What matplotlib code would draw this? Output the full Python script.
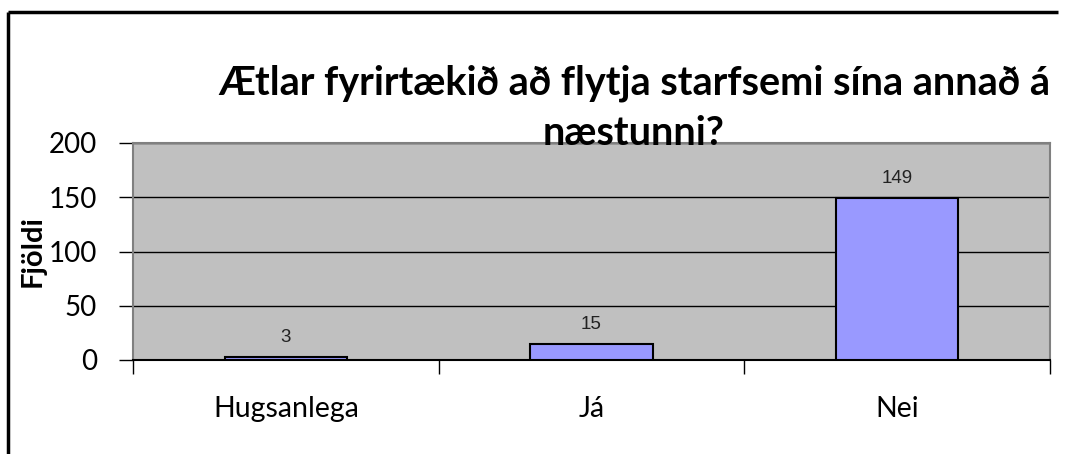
import matplotlib
matplotlib.use("Agg")
import matplotlib.pyplot as plt
from matplotlib.lines import Line2D

categories = ["Hugsanlega", "Já", "Nei"]
values = [3, 15, 149]
title = "Ætlar fyrirtækið að flytja starfsemi sína annað á\nnæstunni?"
ylabel = "Fjöldi"
yticks = [0, 50, 100, 150, 200]

fig = plt.figure(figsize=(10.69, 4.54), dpi=100)
fig.patch.set_linewidth(0)
fig.patch.set_edgecolor("none")
ax = fig.add_axes([133/1069, 1-360/454, (1050-133)/1069, (360-143)/454])
ax.set_facecolor("#C0C0C0")

x = list(range(len(categories)))
bars = ax.bar(x, values, width=0.4, color="#9999FF", edgecolor="black", linewidth=1.5, zorder=3)
for xi, v in zip(x, values):
    ax.text(xi, v + 10, str(v), ha="center", va="bottom", fontsize=13.5,
            family="Liberation Sans", color="#222222")

ax.set_xlim(-0.5, len(categories) - 0.5)
ax.set_ylim(0, 200)
ax.set_yticks(yticks)
ax.set_yticklabels([str(t) for t in yticks], fontsize=20, family="Lato")
ax.yaxis.grid(True, color="black", linewidth=1, zorder=1)
ax.set_axisbelow(True)

ax.set_xticks(x)
ax.set_xticklabels(categories, fontsize=20.5, family="Lato")
ax.tick_params(axis="x", length=0, pad=26)
ax.set_xticks([i - 0.5 for i in range(len(categories) + 1)], minor=True)
ax.tick_params(axis="x", which="minor", length=10, width=1, color="black", direction="out")
ax.tick_params(axis="y", length=10, width=1, color="black", direction="out", pad=16)

for s in ["top", "right", "left"]:
    ax.spines[s].set_color("#808080")
    ax.spines[s].set_linewidth(1.5)
ax.spines["bottom"].set_color("black")
ax.spines["bottom"].set_linewidth(1.5)

ax.set_ylabel(ylabel, fontsize=21, fontweight="bold", family="Lato", labelpad=2)

fig.text(634/1069, 1-64/454, title, ha="center", va="top", fontsize=28.5,
         fontweight="bold", family="Lato", linespacing=1.45)

bx, by = 8/1069, 1 - 11.5/454
fig.add_artist(Line2D([bx, bx], [0.5/454, by], transform=fig.transFigure, color="black",
                      linewidth=2.5, solid_capstyle="butt"))
fig.add_artist(Line2D([bx, 1058/1069], [by, by], transform=fig.transFigure, color="black",
                      linewidth=2.5, solid_capstyle="butt"))

fig.savefig("out.png", dpi=100)
